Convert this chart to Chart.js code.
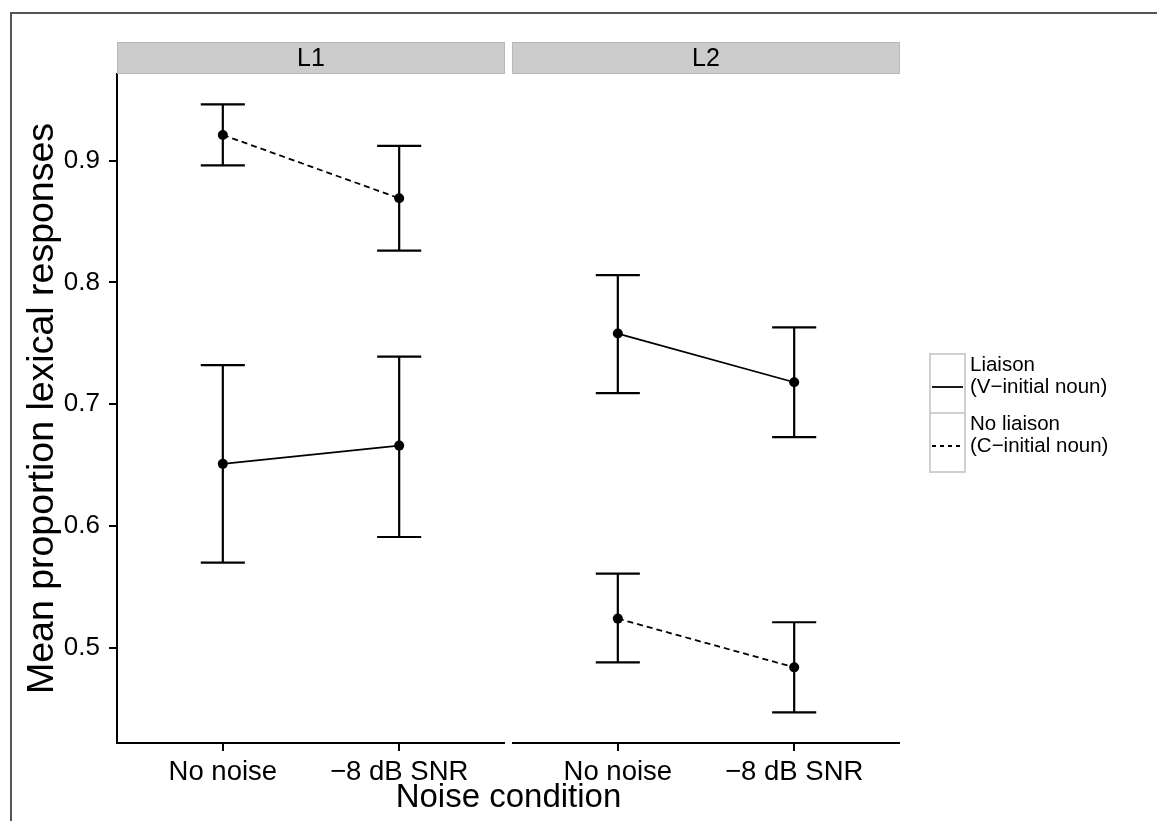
<!DOCTYPE html>
<html>
<head>
<meta charset="utf-8">
<script src="https://cdn.jsdelivr.net/npm/chart.js@4.4.0/dist/chart.umd.min.js"></script>
<style>
  html, body { margin: 0; padding: 0; background: #fff; }
  #wrap { position: relative; width: 1157px; height: 821px; }
</style>
</head>
<body>
<div id="wrap"><canvas id="chart" width="1157" height="821"></canvas></div>
<script>
// Facets, x categories and y ticks
const panels = ['L1', 'L2'];
const conditions = ['No noise', '\u22128 dB SNR'];
const yTicks = [0.5, 0.6, 0.7, 0.8, 0.9];

// Liaison (V-initial noun): mean and error bar bounds per condition
const liaisonMeanL1  = [0.651, 0.666];
const liaisonLowerL1 = [0.570, 0.591];
const liaisonUpperL1 = [0.732, 0.739];
const liaisonMeanL2  = [0.758, 0.718];
const liaisonLowerL2 = [0.709, 0.673];
const liaisonUpperL2 = [0.806, 0.763];

// No liaison (C-initial noun)
const noLiaisonMeanL1  = [0.921, 0.869];
const noLiaisonLowerL1 = [0.896, 0.826];
const noLiaisonUpperL1 = [0.946, 0.912];
const noLiaisonMeanL2  = [0.524, 0.484];
const noLiaisonLowerL2 = [0.488, 0.447];
const noLiaisonUpperL2 = [0.561, 0.521];

const FONT = "'Liberation Sans', Arial, Helvetica, sans-serif";

// each panel spans 2.2 units (categories at 1 and 2, ggplot expansion 0.6),
// panel 2 is shifted right by one panel width plus a small gap
const panelGap = 0.0397;
const panelShift = 2.2 + panelGap;
const xPos = (p, i) => i + 1 + p * panelShift;

function series(means, lower, upper, p) {
  return means.map((m, i) => ({ x: xPos(p, i), y: m, lo: lower[i], hi: upper[i] }));
}

const tickPositions = [];
const tickLabels = [];
panels.forEach((p, pi) => conditions.forEach((c, i) => {
  tickPositions.push(xPos(pi, i));
  tickLabels.push(c);
}));

const lineStyle = (dashed) => ({
  borderColor: '#000',
  backgroundColor: '#000',
  borderWidth: 1.8,
  borderDash: dashed ? [6, 4] : [],
  pointRadius: 5,
  pointHoverRadius: 5,
  pointBorderWidth: 0,
  showLine: true,
  fill: false,
  tension: 0
});

const datasets = [
  Object.assign({ label: 'L1 liaison', data: series(liaisonMeanL1, liaisonLowerL1, liaisonUpperL1, 0) }, lineStyle(false)),
  Object.assign({ label: 'L1 no liaison', data: series(noLiaisonMeanL1, noLiaisonLowerL1, noLiaisonUpperL1, 0) }, lineStyle(true)),
  Object.assign({ label: 'L2 liaison', data: series(liaisonMeanL2, liaisonLowerL2, liaisonUpperL2, 1) }, lineStyle(false)),
  Object.assign({ label: 'L2 no liaison', data: series(noLiaisonMeanL2, noLiaisonLowerL2, noLiaisonUpperL2, 1) }, lineStyle(true))
];

// error bars, drawn through the chart scales
const errorBars = {
  id: 'errorBars',
  beforeDatasetsDraw(chart) {
    const { ctx, scales: { x, y } } = chart;
    const capHalf = 0.125;
    ctx.save();
    ctx.strokeStyle = '#000';
    ctx.lineWidth = 2.2;
    chart.data.datasets.forEach(ds => {
      ds.data.forEach(d => {
        const px = x.getPixelForValue(d.x);
        const yl = y.getPixelForValue(d.lo);
        const yh = y.getPixelForValue(d.hi);
        const cl = x.getPixelForValue(d.x - capHalf);
        const cr = x.getPixelForValue(d.x + capHalf);
        ctx.beginPath();
        ctx.moveTo(px, yl); ctx.lineTo(px, yh);
        ctx.moveTo(cl, yl); ctx.lineTo(cr, yl);
        ctx.moveTo(cl, yh); ctx.lineTo(cr, yh);
        ctx.stroke();
      });
    });
    ctx.restore();
  }
};

// facet strips, per-panel x axis lines, outer frame and legend
const decorations = {
  id: 'decorations',
  afterDraw(chart) {
    const { ctx, chartArea, scales: { x } } = chart;
    ctx.save();

    // outer frame (top and left)
    ctx.strokeStyle = '#555';
    ctx.lineWidth = 2;
    ctx.beginPath();
    ctx.moveTo(11, 821); ctx.lineTo(11, 13); ctx.lineTo(1157, 13);
    ctx.stroke();

    panels.forEach((p, pi) => {
      const left = x.getPixelForValue(0.4 + pi * panelShift);
      const right = x.getPixelForValue(2.6 + pi * panelShift);
      // strip
      ctx.fillStyle = '#cccccc';
      ctx.fillRect(left, 42, right - left, chartArea.top - 42);
      ctx.strokeStyle = '#b8b8b8';
      ctx.lineWidth = 1;
      ctx.strokeRect(left + 0.5, 42.5, right - left - 1, chartArea.top - 43);
      ctx.fillStyle = '#000';
      ctx.font = '25px ' + FONT;
      ctx.textAlign = 'center';
      ctx.textBaseline = 'middle';
      ctx.fillText(p, (left + right) / 2, (42 + chartArea.top) / 2 + 1);
      // x axis line
      ctx.strokeStyle = '#000';
      ctx.lineWidth = 2;
      ctx.beginPath();
      ctx.moveTo(pi === 0 ? left - 1 : left, chartArea.bottom);
      ctx.lineTo(right, chartArea.bottom);
      ctx.stroke();
    });

    // legend
    const keys = [
      { top: 354, lines: ['Liaison', '(V\u2212initial noun)'], dashed: false },
      { top: 413, lines: ['No liaison', '(C\u2212initial noun)'], dashed: true }
    ];
    keys.forEach(k => {
      ctx.fillStyle = '#fff';
      ctx.fillRect(930, k.top, 35, 59);
      ctx.strokeStyle = '#d0d0d0';
      ctx.lineWidth = 2;
      ctx.strokeRect(930, k.top, 35, 59);
      ctx.strokeStyle = '#000';
      ctx.lineWidth = 1.8;
      ctx.setLineDash(k.dashed ? [4, 4] : []);
      ctx.beginPath();
      ctx.moveTo(932, k.top + 33); ctx.lineTo(963, k.top + 33);
      ctx.stroke();
      ctx.setLineDash([]);
      ctx.fillStyle = '#000';
      ctx.font = '20.5px ' + FONT;
      ctx.textAlign = 'left';
      ctx.textBaseline = 'middle';
      ctx.fillText(k.lines[0], 970, k.top + 11);
      ctx.fillText(k.lines[1], 970, k.top + 33);
    });

    ctx.restore();
  }
};

new Chart(document.getElementById('chart'), {
  type: 'scatter',
  data: { datasets },
  options: {
    responsive: false,
    animation: false,
    events: [],
    layout: { padding: { left: 0, top: 74, right: 257, bottom: 0 } },
    plugins: { legend: { display: false }, tooltip: { enabled: false } },
    scales: {
      x: {
        type: 'linear',
        min: 0.4,
        max: 2.6 + panelShift,
        afterBuildTicks: s => { s.ticks = tickPositions.map(v => ({ value: v })); },
        afterFit: s => { s.height = 78; },
        ticks: {
          autoSkip: false,
          maxRotation: 0,
          padding: 5,
          color: '#000',
          font: { family: FONT, size: 27.5 },
          callback: (v, i) => tickLabels[i]
        },
        grid: { drawOnChartArea: false, drawTicks: true, tickLength: 8, color: '#000', lineWidth: 2 },
        border: { display: false },
        title: {
          display: true,
          text: 'Noise condition',
          color: '#000',
          font: { family: FONT, size: 33 },
          padding: { top: 0, bottom: 3 }
        }
      },
      y: {
        min: 0.4219,
        max: 0.971,
        afterBuildTicks: s => { s.ticks = yTicks.map(v => ({ value: v })); },
        afterFit: s => { s.width = 117; },
        ticks: {
          padding: 9,
          color: '#000',
          font: { family: FONT, size: 26 },
          callback: v => v.toFixed(1)
        },
        grid: { drawOnChartArea: false, drawTicks: true, tickLength: 8, color: '#000', lineWidth: 2 },
        border: { display: true, color: '#000', width: 2 },
        title: {
          display: true,
          text: 'Mean proportion lexical responses',
          color: '#000',
          font: { family: FONT, size: 37.5 },
          padding: { top: 20, bottom: 0 }
        }
      }
    }
  },
  plugins: [errorBars, decorations]
});
</script>
</body>
</html>
